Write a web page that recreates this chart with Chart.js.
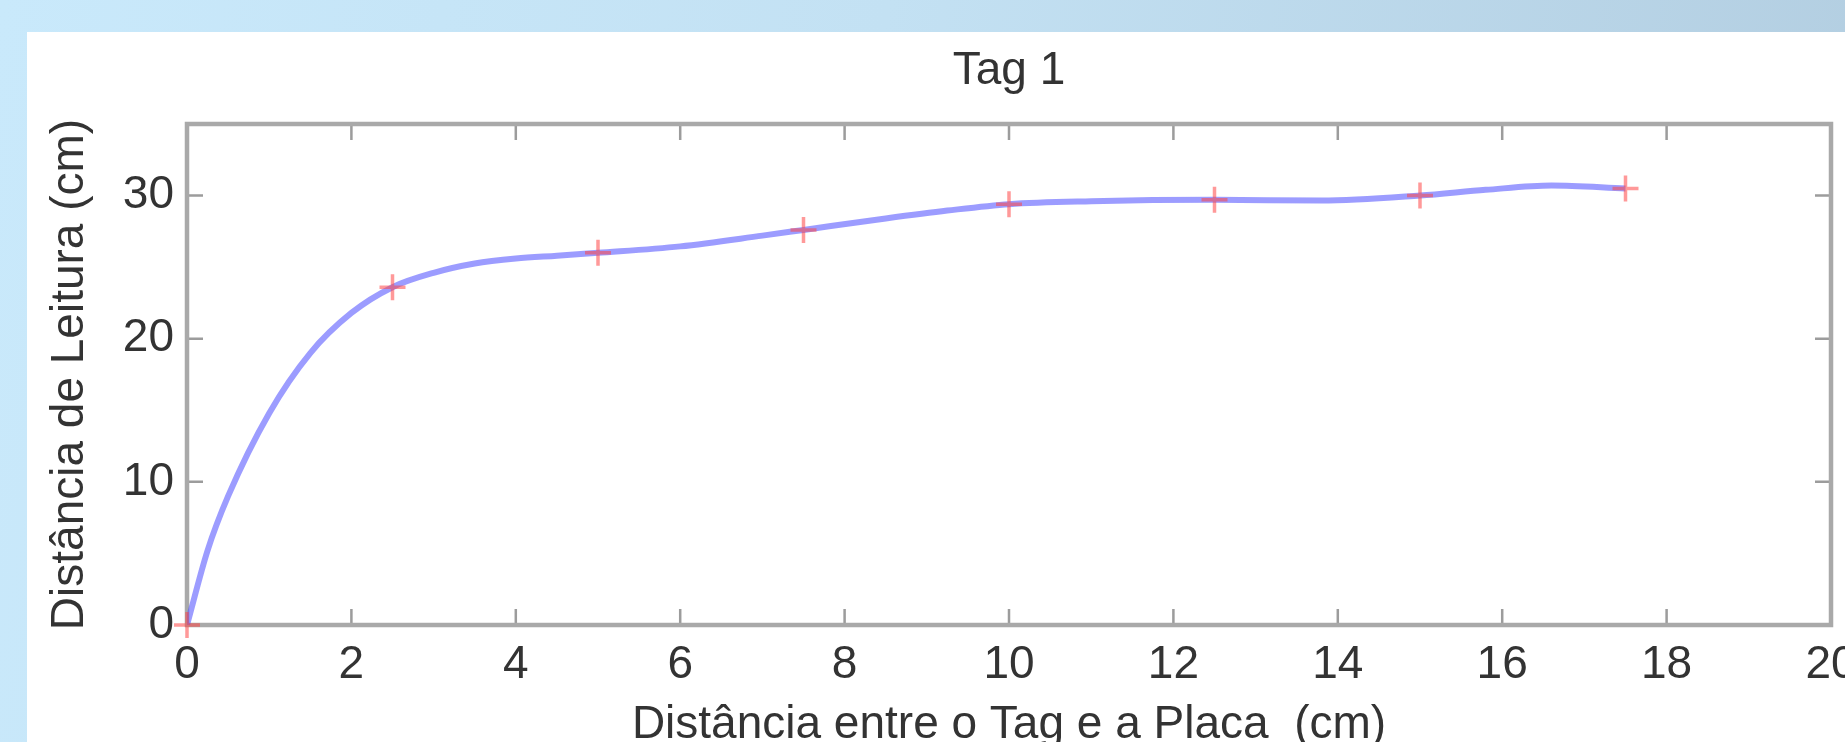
<!DOCTYPE html>
<html><head><meta charset="utf-8">
<script src="https://cdn.jsdelivr.net/npm/chart.js@4.4.0/dist/chart.umd.min.js"></script>
<style>
html,body{margin:0;padding:0;width:1845px;height:742px;overflow:hidden;}
body{background:linear-gradient(100deg,#c9e9fb 0%,#c3e1f3 45%,#b2cde0 100%);position:relative;}
#panel{position:absolute;left:27px;top:32px;width:1818px;height:760px;background:#fff;}
canvas{display:block;}
</style></head><body>
<div id="panel"><canvas id="c" width="1818" height="760" style="width:1818px;height:760px"></canvas></div>
<script>
// ---- data ----
const titleText = 'Tag 1';
const xAxisTitle = 'Distância entre o Tag e a Placa  (cm)';
const yAxisTitle = 'Distância de Leitura (cm)';
const xTicks = [0, 2, 4, 6, 8, 10, 12, 14, 16, 18, 20];
const yTicks = [0, 10, 20, 30];
// measured points (red +)
const measX = [0, 2.5, 5, 7.5, 10, 12.5, 15, 17.5];
const measY = [0, 23.6, 26.0, 27.6, 29.4, 29.7, 30.0, 30.5];
// smooth fitted curve (blue)
const curveX = [0, 0.25, 0.5, 1.0, 1.5, 2.0, 2.5, 3.0, 3.5, 4.0, 4.5, 5.0, 6.0, 7.0, 7.5, 8.5, 9.25, 10.0, 11.0, 12.5, 13.8, 15.0, 15.8, 16.6, 17.5];
const curveY = [0, 5.2, 9.0, 14.8, 19.0, 21.8, 23.6, 24.6, 25.25, 25.6, 25.8, 26.0, 26.45, 27.2, 27.6, 28.4, 28.95, 29.4, 29.6, 29.7, 29.65, 30.0, 30.4, 30.7, 30.5];

// ---- chart ----
const FONT = {family: '"Liberation Sans", Arial, Helvetica, sans-serif', size: 46, weight: 'normal'};
const TXT = '#333333';

const framePlugin = {
  id: 'frame',
  beforeDatasetsDraw(chart) {
    const {ctx, chartArea: {left, right, top, bottom}, scales: {x, y}} = chart;
    ctx.save();
    ctx.strokeStyle = '#9c9c9c';
    ctx.lineWidth = 2.5;
    ctx.beginPath();
    x.ticks.forEach(t => {
      const p = x.getPixelForValue(t.value);
      ctx.moveTo(p, bottom); ctx.lineTo(p, bottom - 16);
      ctx.moveTo(p, top); ctx.lineTo(p, top + 16);
    });
    y.ticks.forEach(t => {
      const p = y.getPixelForValue(t.value);
      ctx.moveTo(left, p); ctx.lineTo(left + 16, p);
      ctx.moveTo(right, p); ctx.lineTo(right - 16, p);
    });
    ctx.stroke();
    ctx.strokeStyle = '#a9a9a9';
    ctx.lineWidth = 4.5;
    ctx.strokeRect(left, top, right - left, bottom - top);
    ctx.restore();
  }
};

new Chart(document.getElementById('c'), {
  type: 'scatter',
  data: {
    datasets: [
      {
        label: 'medidas',
        data: measX.map((v, i) => ({x: v, y: measY[i]})),
        showLine: false,
        pointStyle: 'cross',
        pointRadius: 13,
        pointBorderWidth: 3.5,
        pointBorderColor: 'rgba(255,70,70,0.55)',
        pointBackgroundColor: 'rgba(255,70,70,0.55)',
        clip: false
      },
      {
        label: 'curva',
        data: curveX.map((v, i) => ({x: v, y: curveY[i]})),
        showLine: true,
        pointRadius: 0,
        borderColor: 'rgba(90,90,255,0.6)',
        borderWidth: 6,
        cubicInterpolationMode: 'monotone',
        fill: false
      }
    ]
  },
  options: {
    responsive: false,
    animation: false,
    events: [],
    devicePixelRatio: 1,
    layout: {padding: {left: 0, right: 14, top: 0, bottom: 0}, autoPadding: false},
    plugins: {
      legend: {display: false},
      tooltip: {enabled: false},
      title: {
        display: true,
        text: titleText,
        fullSize: false,
        color: TXT,
        font: FONT,
        padding: {top: 12, bottom: 24.8}
      }
    },
    scales: {
      x: {
        type: 'linear',
        position: 'bottom',
        min: 0, max: 20,
        afterBuildTicks: s => { s.ticks = xTicks.map(v => ({value: v})); },
        afterFit: s => { s.height = 167; s.paddingLeft = 0; s.paddingRight = 0; },
        grid: {display: false, drawTicks: false},
        border: {display: false},
        ticks: {padding: 13, color: TXT, font: FONT, maxRotation: 0, autoSkip: false, callback: v => String(v)},
        title: {display: true, text: xAxisTitle, color: TXT, font: FONT, padding: {top: 0, bottom: 39}}
      },
      y: {
        type: 'linear',
        position: 'left',
        min: 0, max: 35,
        afterBuildTicks: s => { s.ticks = yTicks.map(v => ({value: v})); },
        afterFit: s => { s.width = 160; s.paddingTop = 0; s.paddingBottom = 0; },
        grid: {display: false, drawTicks: false},
        border: {display: false},
        ticks: {padding: 13, color: TXT, font: FONT, autoSkip: false, callback: v => String(v)},
        title: {display: true, text: yAxisTitle, color: TXT, font: FONT, padding: {top: 16, bottom: 0}}
      }
    }
  },
  plugins: [framePlugin]
});
</script>
</body></html>
